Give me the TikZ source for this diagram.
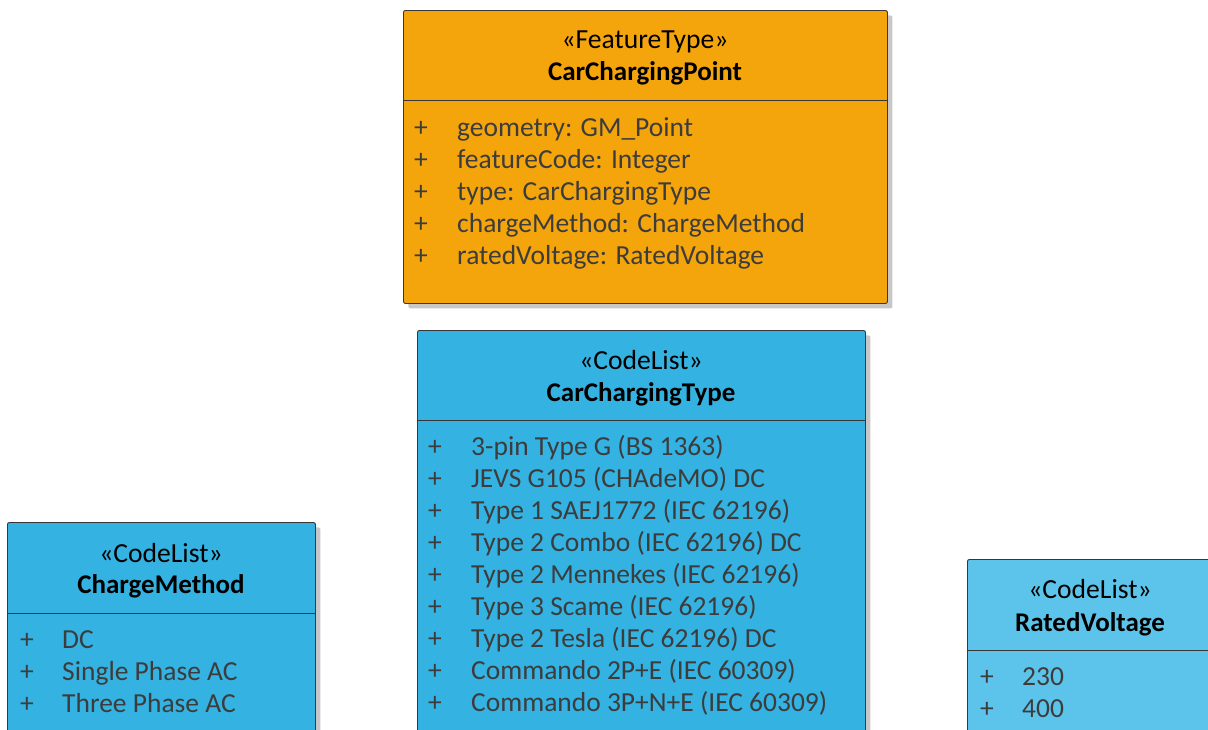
\documentclass[tikz,border=0pt]{standalone}
\usepackage{fontspec}
\setmainfont{Carlito}
\usetikzlibrary{shadows}
\definecolor{orangefill}{RGB}{245,165,12}
\definecolor{bluefill}{RGB}{52,178,226}
\definecolor{lightbluefill}{RGB}{92,196,234}
\definecolor{edgecol}{RGB}{55,55,55}
\definecolor{attrcol}{RGB}{60,60,60}
\tikzset{
  classbox/.style={draw=edgecol, line width=0.9pt, rounded corners=2pt, anchor=north west, inner sep=0pt,
    drop shadow={shadow xshift=5pt, shadow yshift=-5pt, opacity=0.22, fill=black}},
  stereo/.style={font=\fontsize{27.6}{32}\selectfont, text=black, anchor=base, inner sep=0pt},
  cname/.style={font=\fontsize{27}{32}\selectfont\bfseries, text=black, anchor=base, inner sep=0pt},
  plus/.style={font=\fontsize{27.5}{32}\selectfont, text=attrcol, anchor=base, inner sep=0pt},
  attrtext/.style={font=\fontsize{27.5}{32}\selectfont, text=attrcol, anchor=base west, inner sep=0pt},
  sep/.style={draw=edgecol, line width=0.9pt}
}
\begin{document}
\begin{tikzpicture}[x=1pt,y=-1pt]
\useasboundingbox (0,0) rectangle (1208,729);
\clip (0,0) rectangle (1208,729);
\fill[white] (0,0) rectangle (1208,729);

% CarChargingPoint
\node[classbox, fill=orangefill, minimum width=484pt, minimum height=293pt] (ccp) at (403,10) {};
\draw[sep] ([yshift=-90pt]ccp.north west) -- ([yshift=-90pt]ccp.north east);
\node[stereo] (ccp-st) at (645,48) {«FeatureType»};
\node[cname] (ccp-nm) at (645,80) {CarChargingPoint};
\foreach \t [count=\i] in {geometry: GM\_Point, featureCode: Integer, type: CarChargingType, chargeMethod: ChargeMethod, ratedVoltage: RatedVoltage}{
  \node[plus] (ccp-p\i) at (421,{104+32*\i}) {+};
  \node[attrtext] (ccp-a\i) at (457,{104+32*\i}) {\t};
}

% CarChargingType
\node[classbox, fill=bluefill, minimum width=448pt, minimum height=460pt] (cct) at (417,330) {};
\draw[sep] ([yshift=-90pt]cct.north west) -- ([yshift=-90pt]cct.north east);
\node[stereo] (cct-st) at (641,369) {«CodeList»};
\node[cname] (cct-nm) at (641,401) {CarChargingType};
\foreach \t [count=\i] in {3-pin Type G (BS 1363), JEVS G105 (CHAdeMO) DC, Type 1 SAEJ1772 (IEC 62196), Type 2 Combo (IEC 62196) DC, Type 2 Mennekes (IEC 62196), Type 3 Scame (IEC 62196), Type 2 Tesla (IEC 62196) DC, Commando 2P+E (IEC 60309), Commando 3P+N+E (IEC 60309)}{
  \node[plus] (cct-p\i) at (435,{423+32*\i}) {+};
  \node[attrtext] (cct-a\i) at (471,{423+32*\i}) {\t};
}

% ChargeMethod
\node[classbox, fill=bluefill, minimum width=308pt, minimum height=260pt] (cm) at (7,522) {};
\draw[sep] ([yshift=-91pt]cm.north west) -- ([yshift=-91pt]cm.north east);
\node[stereo] (cm-st) at (161,562) {«CodeList»};
\node[cname] (cm-nm) at (161,593) {ChargeMethod};
\foreach \t [count=\i] in {DC, Single Phase AC, Three Phase AC}{
  \node[plus] (cm-p\i) at (27,{616+32*\i}) {+};
  \node[attrtext] (cm-a\i) at (62,{616+32*\i}) {\t};
}

% RatedVoltage
\node[classbox, fill=lightbluefill, minimum width=246pt, minimum height=260pt] (rv) at (967,559) {};
\draw[sep] ([yshift=-91pt]rv.north west) -- ([yshift=-91pt]rv.north east);
\node[stereo] (rv-st) at (1090,598) {«CodeList»};
\node[cname] (rv-nm) at (1090,631) {RatedVoltage};
\foreach \t [count=\i] in {230, 400}{
  \node[plus] (rv-p\i) at (987,{653+32*\i}) {+};
  \node[attrtext] (rv-a\i) at (1022,{653+32*\i}) {\t};
}
\end{tikzpicture}
\end{document}
